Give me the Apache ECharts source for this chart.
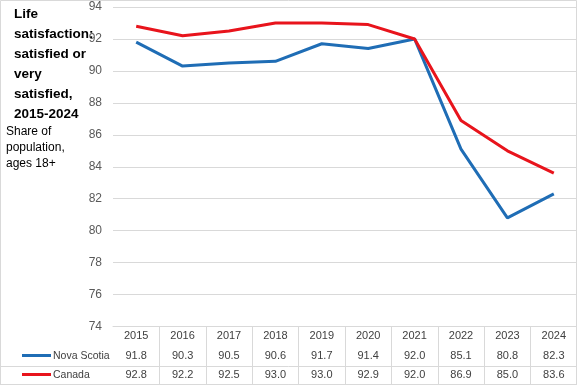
<!DOCTYPE html>
<html><head><meta charset="utf-8">
<script src="https://cdn.jsdelivr.net/npm/echarts@6/dist/echarts.min.js"></script>
<style>html,body{margin:0;padding:0;background:#fff}#c{width:577px;height:385px}</style>
</head><body><div id="c"></div>
<script>
const years = ['2015','2016','2017','2018','2019','2020','2021','2022','2023','2024'];
const novaScotia = [91.8, 90.3, 90.5, 90.6, 91.7, 91.4, 92.0, 85.1, 80.8, 82.3];
const canada = [92.8, 92.2, 92.5, 93.0, 93.0, 92.9, 92.0, 86.9, 85.0, 83.6];
const seriesNames = ['Nova Scotia', 'Canada'];
const yTicks = {min: 74, max: 94, step: 2};
const titleText = 'Life\nsatisfaction:\nsatisfied or\nvery\nsatisfied,\n2015-2024';
const subtitleText = 'Share of\npopulation,\nages 18+';
const blue = '#1f6db5', red = '#e8141c', grid = '#d9d9d9';

const chart = echarts.init(document.getElementById('c'), null, {renderer: 'canvas'});
chart.setOption({
  animation: false,
  backgroundColor: '#fff',
  textStyle: {fontFamily: 'Liberation Sans'},
  grid: {left: 113, right: 0, top: 7, bottom: 58, containLabel: false},
  title: [
    {text: titleText, left: 9, top: -1, textStyle: {fontSize: 13.5, fontWeight: 'bold', color: '#000', lineHeight: 20, fontFamily: 'Liberation Sans'}},
    {text: subtitleText, left: 1, top: 119, textStyle: {fontSize: 12, fontWeight: 'normal', color: '#000', lineHeight: 16, fontFamily: 'Liberation Sans'}}
  ],
  legend: {show: false},
  xAxis: {
    type: 'category', data: years, boundaryGap: true,
    axisLine: {show: true, lineStyle: {color: grid, width: 1}},
    axisTick: {show: true, length: 58, interval: function (index) { return index !== 0; }, lineStyle: {color: grid}},
    axisLabel: {
      margin: 0, interval: 0, color: '#404040', fontSize: 11, lineHeight: 19.5,
      formatter: function (v, i) { return v + '\n' + novaScotia[i].toFixed(1) + '\n' + canada[i].toFixed(1); }
    }
  },
  yAxis: {
    type: 'value', min: yTicks.min, max: yTicks.max, interval: yTicks.step,
    axisLine: {show: false}, axisTick: {show: false},
    axisLabel: {color: '#595959', fontSize: 12, margin: 11},
    splitLine: {lineStyle: {color: grid, width: 1}}
  },
  series: [
    {name: seriesNames[0], type: 'line', data: novaScotia, showSymbol: false, symbol: 'none', lineStyle: {color: blue, width: 3}, itemStyle: {color: blue}},
    {name: seriesNames[1], type: 'line', data: canada, showSymbol: false, symbol: 'none', lineStyle: {color: red, width: 3}, itemStyle: {color: red}}
  ],
  graphic: [
    {type: 'line', shape: {x1: 0, y1: 366.5, x2: 577, y2: 366.5}, style: {stroke: grid, lineWidth: 1}, silent: true},
    {type: 'line', shape: {x1: 0, y1: 384.5, x2: 577, y2: 384.5}, style: {stroke: grid, lineWidth: 1}, silent: true},
    {type: 'rect', shape: {x: 0.5, y: 0.5, width: 576, height: 384}, style: {fill: 'none', stroke: grid, lineWidth: 1}, silent: true},
    {type: 'line', shape: {x1: 22, y1: 355.5, x2: 51, y2: 355.5}, style: {stroke: blue, lineWidth: 3}, silent: true},
    {type: 'text', x: 53, y: 356, style: {text: seriesNames[0], fontSize: 10.5, fill: '#404040', verticalAlign: 'middle', fontFamily: 'Liberation Sans'}, silent: true},
    {type: 'line', shape: {x1: 22, y1: 374.5, x2: 51, y2: 374.5}, style: {stroke: red, lineWidth: 3}, silent: true},
    {type: 'text', x: 53, y: 375, style: {text: seriesNames[1], fontSize: 10.5, fill: '#404040', verticalAlign: 'middle', fontFamily: 'Liberation Sans'}, silent: true}
  ]
});
</script></body></html>
